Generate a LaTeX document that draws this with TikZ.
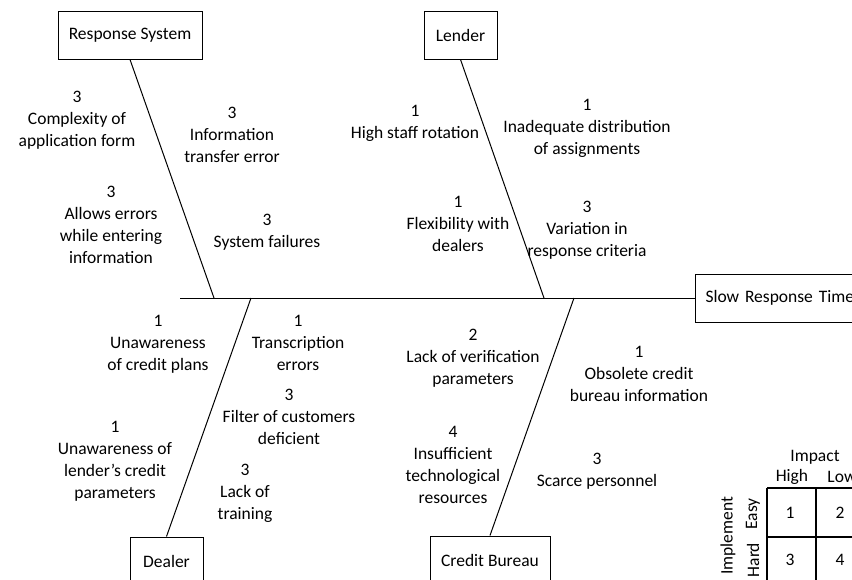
\documentclass[tikz,border=0pt]{standalone}
\usepackage{fontspec}
\setmainfont{Carlito}
\begin{document}
\begin{tikzpicture}[x=1pt,y=-1pt,
  lbl/.style={align=center,inner sep=0pt,font=\fontsize{17.5}{22}\selectfont},
  cat/.style={draw,line width=1pt,minimum height=48pt,inner sep=0pt,font=\fontsize{17.5}{22}\selectfont},
  bone/.style={line width=1pt},
  grid/.style={line width=1.7pt}]
\useasboundingbox (0,0) rectangle (852,579);
\clip (0,0) rectangle (852,579);
% category boxes
\node[cat,minimum width=144pt] (rs) at (130,35) {Response System};
\node[cat,minimum width=73pt] (ld) at (460.5,35) {Lender};
\node[cat,minimum width=73pt] (dl) at (166.5,561) {Dealer};
\node[cat,minimum width=120pt] (cb) at (490,560) {Credit Bureau};
\node[cat,anchor=west,text width=180pt,align=left,inner xsep=10pt] (ef) at (695,298) {Slow Response Time};
% spine and bones
\coordinate (tail) at (180,298);
\coordinate (jrs) at (214,298);
\coordinate (jld) at (544,298);
\coordinate (jdl) at (251,298);
\coordinate (jcb) at (574,298);
\draw[bone] (tail) -- (ef.west);
\draw[bone] (rs.south) -- (jrs);
\draw[bone] (ld.south) -- (jld);
\draw[bone] (dl.north) -- (jdl);
\draw[bone] (cb.north) -- (jcb);
% causes
\node[lbl] (c1) at (77,120.5) {3\\Complexity of\\application form};
\node[lbl] (c2) at (232,135) {3\\Information\\transfer error};
\node[lbl] (c3) at (111,225) {3\\Allows errors\\while entering\\information};
\node[lbl] (c4) at (267,232.5) {3\\System failures};
\node[lbl] (c5) at (415,123.5) {1\\High staff rotation};
\node[lbl] (c6) at (587,128.5) {1\\Inadequate distribution\\of assignments};
\node[lbl] (c7) at (458,223.5) {1\\Flexibility with\\dealers};
\node[lbl] (c8) at (587,230.5) {3\\Variation in\\response criteria};
\node[lbl] (c9) at (158,344.5) {1\\Unawareness\\of credit plans};
\node[lbl] (c10) at (298,342.5) {1\\Transcription\\errors};
\node[lbl] (c11) at (289,416.5) {3\\Filter of customers\\deficient};
\node[lbl] (c12) at (115,461.5) {1\\Unawareness of\\lender’s credit\\parameters};
\node[lbl] (c13) at (245,493.5) {3\\Lack of\\training};
\node[lbl] (c14) at (473,358.5) {2\\Lack of verification\\parameters};
\node[lbl] (c15) at (639,373.5) {1\\Obsolete credit\\bureau information};
\node[lbl] (c16) at (453,465) {4\\Insufficient\\technological\\resources};
\node[lbl] (c17) at (597,471.5) {3\\Scarce personnel};
% priority matrix
\draw[grid] (767,488) -- (767,600);
\draw[grid] (816,488) -- (816,600);
\draw[grid] (767,488) -- (870,488);
\draw[grid] (767,537) -- (870,537);
\node[lbl] (mi) at (815,457) {Impact};
\node[lbl] (mh) at (792,477) {High};
\node[lbl] (ml) at (842,477) {Low};
\node[lbl,rotate=90] (mim) at (728,536) {Implement};
\node[lbl,rotate=90] (me) at (753,514) {Easy};
\node[lbl,rotate=90] (mha) at (753,560) {Hard};
\node[lbl] (n1) at (790,513) {1};
\node[lbl] (n2) at (840,513) {2};
\node[lbl] (n3) at (790,560) {3};
\node[lbl] (n4) at (840,560) {4};
\end{tikzpicture}
\end{document}
